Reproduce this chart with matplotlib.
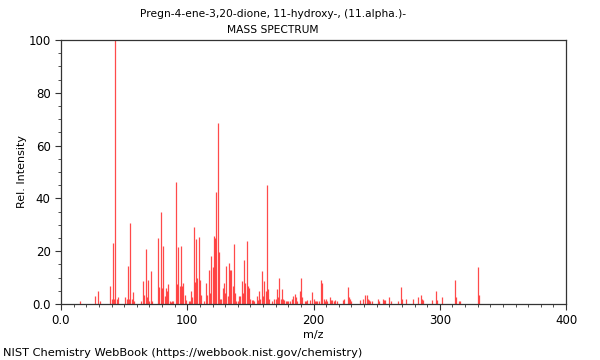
import matplotlib
matplotlib.use("Agg")
import matplotlib.pyplot as plt
from matplotlib.ticker import MultipleLocator, FixedLocator, FixedFormatter

# peak list (m/z, relative intensity)
mz = [15, 27, 29, 31, 39, 40, 41, 42, 43, 44, 45, 51, 52, 53, 54, 55, 56, 57, 58,
      63, 65, 66, 67, 68, 69, 70, 71, 72, 77, 78, 79, 80, 81, 82, 83, 84, 85, 86,
      87, 88, 89, 91, 92, 93, 94, 95, 96, 97, 98, 99, 101, 102, 103, 104, 105, 106,
      107, 108, 109, 110, 111, 113, 115, 116, 117, 118, 119, 120, 121, 122, 123,
      124, 125, 126, 127, 128, 129, 130, 131, 132, 133, 134, 135, 136, 137, 138,
      139, 140, 141, 142, 143, 144, 145, 146, 147, 148, 149, 150, 151, 152, 153,
      155, 156, 157, 158, 159, 160, 161, 162, 163, 164, 165, 167, 169, 170, 171,
      172, 173, 174, 175, 176, 177, 178, 179, 180, 181, 183, 184, 185, 186, 187,
      189, 190, 191, 193, 194, 195, 197, 199, 200, 201, 202, 203, 204, 206, 207,
      208, 209, 210, 211, 213, 214, 215, 216, 217, 219, 223, 224, 227, 228, 229,
      230, 237, 239, 241, 242, 243, 244, 245, 246, 251, 252, 255, 256, 257, 260,
      261, 267, 269, 270, 273, 279, 283, 285, 286, 287, 294, 297, 298, 302, 312,
      313, 315, 316, 330, 331]
intensity = [1, 3, 5, 1, 7, 2, 23, 2, 100, 2, 2.5, 2.5, 2, 14.4, 2, 30.6, 2, 4.7, 1,
             1, 8.8, 3.4, 20.8, 2.8, 9, 1.3, 12.6, 1.3, 25, 6.5, 34.8, 6, 22, 3, 6, 5, 7.7, 1,
             0.8, 1, 1, 46.3, 7.7, 21.5, 7, 22, 6.8, 8, 3.5, 1.5, 1, 1, 4.8, 2.5, 29, 8.5,
             24.7, 9.7, 25.4, 9, 3.5, 1.3, 8, 3.4, 12.7, 4.3, 18.3, 14, 25.8, 25, 42.5,
             68.5, 19.8, 1.8, 2, 6, 8, 4, 14.5, 3, 15.4, 12.9, 12.8, 6.8, 22.7, 4.3,
             1, 1, 3, 3, 8.8, 4, 16.8, 8, 24, 7, 6, 2, 1.5, 1.5, 1,
             3, 1.5, 5, 2, 12.5, 3, 8.8, 5, 45, 5.5, 2, 1, 2, 2, 5.5,
             2.5, 9.7, 2, 5.5, 2, 1.5, 1, 1, 1, 1, 2, 3, 3.6, 2.5, 1,
             5, 10, 2.5, 1, 1, 1.5, 1.5, 4.5, 2, 1, 1, 1, 1, 9, 8,
             2, 1, 2, 1, 2.5, 1.5, 1.5, 1, 1.5, 1, 1.5, 2, 6.6, 2.5, 2,
             1, 1.5, 2, 3.3, 3.5, 2, 1.5, 1, 1, 2, 1, 2, 1.5, 1.5, 2.5,
             1, 1, 6.6, 2, 2, 2, 2.5, 3.5, 2, 1.5, 1.5, 4.8, 1.5, 2.5, 9.1,
             2.5, 1, 1, 13.9, 3.4]

x_ticks = [0, 100, 200, 300, 400]
x_labels = ["0.0", "100", "200", "300", "400"]
y_ticks = [0, 20, 40, 60, 80, 100]
y_labels = ["0.0", "20", "40", "60", "80", "100"]

fig = plt.figure(figsize=(6, 3.6), dpi=100)
ax = fig.add_axes([61 / 600, 56 / 360, 505 / 600, 264 / 360])

ax.vlines(mz, 0, intensity, color="#ff2a2a", linewidth=0.9, alpha=0.85)

ax.set_xlim(0, 400)
ax.set_ylim(0, 100)
ax.xaxis.set_major_locator(FixedLocator(x_ticks))
ax.xaxis.set_major_formatter(FixedFormatter(x_labels))
ax.yaxis.set_major_locator(FixedLocator(y_ticks))
ax.yaxis.set_major_formatter(FixedFormatter(y_labels))
ax.xaxis.set_minor_locator(MultipleLocator(10))
ax.yaxis.set_minor_locator(MultipleLocator(5))
ax.tick_params(which="major", direction="out", length=4, width=0.8, labelsize=8.5, color="#333333")
ax.tick_params(which="minor", direction="out", length=2.5, width=0.6, color="#333333")
for s in ax.spines.values():
    s.set_color("#333333")
    s.set_linewidth(0.9)

ax.set_xlabel("m/z", fontsize=8, labelpad=2)
ax.set_ylabel("Rel. Intensity", fontsize=8, labelpad=1)

fig.text(0.455, 1 - 14 / 360, "Pregn-4-ene-3,20-dione, 11-hydroxy-, (11.alpha.)-",
         ha="center", va="center", fontsize=7.7)
fig.text(0.455, 1 - 30 / 360, "MASS SPECTRUM", ha="center", va="center", fontsize=7.7)
fig.text(3 / 600, 1 - 353 / 360, "NIST Chemistry WebBook (https://webbook.nist.gov/chemistry)",
         ha="left", va="center", fontsize=8.2)

fig.savefig("out.png", dpi=100)
